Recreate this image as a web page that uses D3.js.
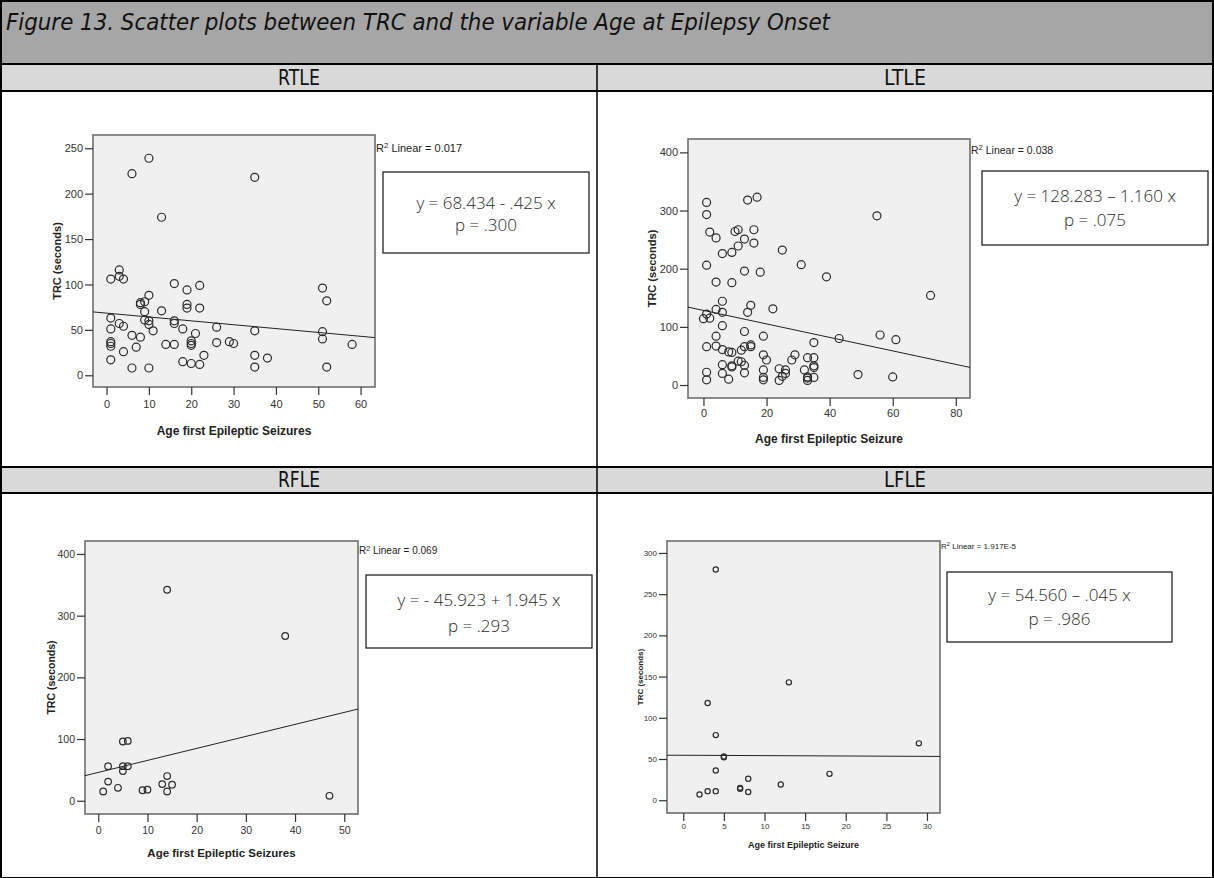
<!DOCTYPE html>
<html>
<head>
<meta charset="utf-8">
<script src="https://cdn.jsdelivr.net/npm/d3@7"></script>
<style>
  body { margin: 0; background: #fff; }
</style>
</head>
<body>
<svg id="chart" width="1214" height="878"></svg>
<script>
// ---- data ----
var titleText = 'Figure 13. Scatter plots between TRC and the variable Age at Epilepsy Onset';
var groupNames = ['RTLE', 'LTLE', 'RFLE', 'LFLE'];

var rtleAge = [10, 6, 35, 13, 3, 1, 3, 4, 16, 22, 19, 51, 52, 10, 8, 9, 8, 19, 19, 22, 13, 9, 1, 9, 10, 16, 16, 3, 4, 10, 1, 11, 18, 21, 26, 35, 51, 51, 6, 8, 1, 1, 1, 7, 4, 1, 6, 10, 14, 16, 20, 20, 20, 18, 20, 22, 23, 26, 29, 30, 35, 35, 38, 52, 58];
var rtleTrc = [239, 222, 218, 174, 116, 106, 109, 106, 101, 99, 94, 96, 82, 88, 80, 81, 78, 78, 74, 74, 71, 70, 63, 61, 60, 60, 57, 57, 54, 56, 51, 49, 51, 46, 53, 49, 48, 40, 44, 42, 37, 35, 32, 31, 26, 17, 8, 8, 34, 34, 38, 35, 33, 15, 13, 12, 22, 36, 37, 35, 22, 9, 19, 9, 34];

var ltleAge = [1, 1, 14, 17, 55, 2, 4, 10, 11, 16, 13, 16, 11, 6, 9, 25, 1, 31, 13, 18, 39, 4, 9, 72, 6, 15, 14, 22, 4, 6, 1, 0, 2, 6, 13, 19, 4, 43, 56, 61, 35, 1, 4, 6, 8, 9, 12, 13, 15, 15, 19, 20, 28, 29, 33, 35, 11, 12, 13, 9, 9, 6, 6, 13, 19, 19, 19, 24, 26, 26, 25, 24, 32, 33, 33, 33, 35, 35, 35, 1, 1, 8, 49, 60];
var ltleTrc = [314, 293, 318, 323, 291, 263, 253, 264, 267, 267, 251, 244, 239, 226, 228, 232, 206, 207, 196, 194, 186, 177, 176, 154, 144, 137, 125, 131, 130, 125, 122, 114, 115, 102, 92, 84, 84, 80, 86, 78, 73, 66, 67, 61, 57, 56, 60, 66, 69, 66, 52, 43, 43, 52, 47, 47, 41, 40, 34, 33, 31, 35, 20, 21, 26, 13, 9, 28, 26, 20, 15, 8, 26, 14, 12, 8, 33, 30, 13, 22, 9, 10, 18, 14];

var rfleAge = [14, 38, 5, 6, 2, 5, 6, 5, 2, 1, 4, 9, 10, 13, 14, 15, 14, 47];
var rfleTrc = [342, 267, 96, 97, 56, 56, 56, 48, 31, 15, 21, 17, 18, 27, 40, 26, 15, 8];

var lfleAge = [4, 13, 3, 4, 29, 5, 5, 4, 18, 8, 12, 7, 7, 3, 4, 8, 2];
var lfleTrc = [280, 143, 118, 79, 69, 52, 53, 36, 32, 26, 19, 15, 14, 11, 11, 10, 7];

var fitIntercept = [68.434, 128.283, 45.923, 54.560];
var fitSlope = [-0.425, -1.160, 1.945, -0.045];
var r2Values = ['0.017', '0.038', '0.069', '1.917E-5'];
var eqLabels = ['y = 68.434 - .425 x', 'y = 128.283 \u2013 1.160 x', 'y = - 45.923 + 1.945 x', 'y = 54.560 \u2013 .045 x'];
var pLabels = ['p = .300', 'p = .075', 'p = .293', 'p = .986'];

var xTickValues = [[0, 10, 20, 30, 40, 50, 60], [0, 20, 40, 60, 80], [0, 10, 20, 30, 40, 50], [0, 5, 10, 15, 20, 25, 30]];
var yTickValues = [[0, 50, 100, 150, 200, 250], [0, 100, 200, 300, 400], [0, 100, 200, 300, 400], [0, 50, 100, 150, 200, 250, 300]];
var xTitles = ['Age first Epileptic Seizures', 'Age first Epileptic Seizure', 'Age first Epileptic Seizures', 'Age first Epileptic Seizure'];
var yTitle = 'TRC (seconds)';

// ---- layout (pixel positions of each SPSS plot) ----
var layout = [
  {frame: [93, 135, 375, 387], xDom: [-3.2, 63.4], yDom: [-12.9, 264.6], r: 4, font: 11, titleFont: 12,
   yTitleX: 61, xTickDy: 21, xTitleY: 435, box: [383, 172, 589, 253], eqY: [209, 231], r2Dy: 17, r2Font: 11},
  {frame: [688, 139, 970, 398], xDom: [-4.9, 84.5], yDom: [-22.3, 423], r: 4, font: 11, titleFont: 12,
   yTitleX: 656, xTickDy: 19, xTitleY: 443, box: [982, 171, 1208, 245], eqY: [202, 226], r2Dy: 15, r2Font: 10.5},
  {frame: [85, 541, 358, 814], xDom: [-2.7, 52.8], yDom: [-21.5, 421], r: 3.3, font: 10.5, titleFont: 11.5,
   yTitleX: 55, xTickDy: 19.5, xTitleY: 857, box: [366, 575, 592, 648], eqY: [606, 632], r2Dy: 13, r2Font: 10},
  {frame: [667, 541, 940, 813], xDom: [-2.0, 31.6], yDom: [-15.5, 314.5], r: 2.6, font: 8, titleFont: 9,
   yTitleX: 643, xTickDy: 15.5, xTitleY: 848, box: [947, 572, 1172, 642], eqY: [601, 625], r2Dy: 8, r2Font: 8}
];

var groupData = [[rtleAge, rtleTrc], [ltleAge, ltleTrc], [rfleAge, rfleTrc], [lfleAge, lfleTrc]];

var svg = d3.select('#chart');
var narrow = '"DejaVu Sans", sans-serif';
var arial = '"Liberation Sans", Arial, sans-serif';

// ---- table background ----
var W = 1214, H = 878, mid = 597;
var rowLines = [0, 63, 90, 466, 492, 877];

svg.append('rect').attr('x', 0).attr('y', 0).attr('width', W).attr('height', rowLines[1])
    .attr('fill', '#a6a6a6');
[[rowLines[1], rowLines[2]], [rowLines[3], rowLines[4]]].forEach(function(r) {
  svg.append('rect').attr('x', 0).attr('y', r[0]).attr('width', W).attr('height', r[1] - r[0])
      .attr('fill', '#d9d9d9');
});

svg.append('text')
    .attr('x', 6).attr('y', 30)
    .attr('font-family', narrow)
    .attr('font-stretch', 'condensed')
    .attr('font-style', 'italic')
    .attr('font-size', 23)
    .attr('textLength', 824)
    .attr('lengthAdjust', 'spacingAndGlyphs')
    .attr('fill', '#111')
    .text(titleText);

// group header labels
groupNames.forEach(function(name, i) {
  var col = i % 2, row = Math.floor(i / 2);
  var cx = col === 0 ? (1 + mid) / 2 : (mid + W - 1) / 2;
  var top = row === 0 ? rowLines[1] : rowLines[3];
  var bottom = row === 0 ? rowLines[2] : rowLines[4];
  svg.append('text')
      .attr('x', cx).attr('y', (top + bottom) / 2 + 8)
      .attr('text-anchor', 'middle')
      .attr('font-family', narrow)
      .attr('font-stretch', 'condensed')
      .attr('font-size', 21)
      .attr('textLength', 42)
      .attr('lengthAdjust', 'spacingAndGlyphs')
      .attr('fill', '#111')
      .text(name);
});

// ---- one scatter panel ----
function drawPanel(i) {
  var L = layout[i];
  var ages = groupData[i][0], trcs = groupData[i][1];
  var f = L.frame;

  var x = d3.scaleLinear().domain(L.xDom).range([f[0], f[2]]);
  var y = d3.scaleLinear().domain(L.yDom).range([f[3], f[1]]);

  var g = svg.append('g').attr('class', 'panel');

  g.append('rect')
      .attr('x', f[0]).attr('y', f[1])
      .attr('width', f[2] - f[0]).attr('height', f[3] - f[1])
      .attr('fill', '#f0f0f0')
      .attr('stroke', '#6e6e6e')
      .attr('stroke-width', 1.6);

  // baseline of x tick labels sits xTickDy below the frame
  var pad = L.xTickDy - 0.71 * L.font - 8;
  var yAxis = d3.axisLeft(y).tickValues(yTickValues[i]).tickSize(8).tickPadding(2).tickSizeOuter(0);
  var xAxis = d3.axisBottom(x).tickValues(xTickValues[i]).tickSize(8).tickPadding(pad).tickSizeOuter(0);

  var ya = g.append('g').attr('transform', 'translate(' + f[0] + ',0)').call(yAxis);
  var xa = g.append('g').attr('transform', 'translate(0,' + f[3] + ')').call(xAxis);
  [ya, xa].forEach(function(a) {
    a.select('.domain').remove();
    a.selectAll('line').attr('stroke', '#333').attr('stroke-width', 1.2);
    a.selectAll('text').attr('font-family', arial).attr('font-size', L.font).attr('fill', '#333');
  });

  g.append('text')
      .attr('transform', 'translate(' + L.yTitleX + ',' + ((f[1] + f[3]) / 2) + ') rotate(-90)')
      .attr('text-anchor', 'middle')
      .attr('font-family', arial)
      .attr('font-weight', 'bold')
      .attr('font-size', L.titleFont - 1)
      .attr('fill', '#222')
      .text(yTitle);

  g.append('text')
      .attr('x', (f[0] + f[2]) / 2).attr('y', L.xTitleY)
      .attr('text-anchor', 'middle')
      .attr('font-family', arial)
      .attr('font-weight', 'bold')
      .attr('font-size', L.titleFont)
      .attr('fill', '#222')
      .text(xTitles[i]);

  // fit line across the whole frame
  var line = d3.line()
      .x(function(d) { return x(d); })
      .y(function(d) { return y(fitIntercept[i] + fitSlope[i] * d); });
  g.append('path')
      .datum(L.xDom)
      .attr('d', line)
      .attr('fill', 'none')
      .attr('stroke', '#222')
      .attr('stroke-width', 1);

  g.append('g')
    .selectAll('circle')
      .data(d3.range(ages.length))
    .enter().append('circle')
      .attr('cx', function(k) { return x(ages[k]); })
      .attr('cy', function(k) { return y(trcs[k]); })
      .attr('r', L.r)
      .attr('fill', 'none')
      .attr('stroke', '#2b2b2b')
      .attr('stroke-width', 1.2);

  // R squared label
  var r2 = g.append('text')
      .attr('x', f[2] + 1).attr('y', f[1] + L.r2Dy)
      .attr('font-family', arial)
      .attr('font-size', L.r2Font)
      .attr('fill', '#222');
  r2.append('tspan').text('R');
  r2.append('tspan').attr('dy', -L.r2Font * 0.35).attr('font-size', L.r2Font * 0.72).text('2');
  r2.append('tspan').attr('dy', L.r2Font * 0.35).text(' Linear = ' + r2Values[i]);

  // equation box
  var b = L.box;
  g.append('rect')
      .attr('x', b[0]).attr('y', b[1])
      .attr('width', b[2] - b[0]).attr('height', b[3] - b[1])
      .attr('fill', '#fff')
      .attr('stroke', '#111')
      .attr('stroke-width', 1.2);
  [eqLabels[i], pLabels[i]].forEach(function(t, k) {
    g.append('text')
        .attr('x', (b[0] + b[2]) / 2).attr('y', L.eqY[k])
        .attr('text-anchor', 'middle')
        .attr('font-family', '"Open Sans", "Noto Sans", sans-serif')
        .attr('font-weight', 300)
        .attr('font-size', 17)
        .attr('fill', '#2a2a2a')
        .text(t);
  });
}

d3.range(4).forEach(drawPanel);

// ---- table grid lines on top ----
var grid = svg.append('g').attr('stroke', '#000').attr('stroke-width', 2);
rowLines.forEach(function(yy) {
  grid.append('line').attr('x1', 0).attr('x2', W).attr('y1', yy + 1).attr('y2', yy + 1);
});
grid.append('line').attr('x1', 1).attr('x2', 1).attr('y1', 0).attr('y2', H);
grid.append('line').attr('x1', W - 1).attr('x2', W - 1).attr('y1', 0).attr('y2', H);
grid.append('line').attr('x1', mid).attr('x2', mid).attr('y1', rowLines[1]).attr('y2', H)
    .attr('stroke-width', 1.5);
</script>
</body>
</html>
